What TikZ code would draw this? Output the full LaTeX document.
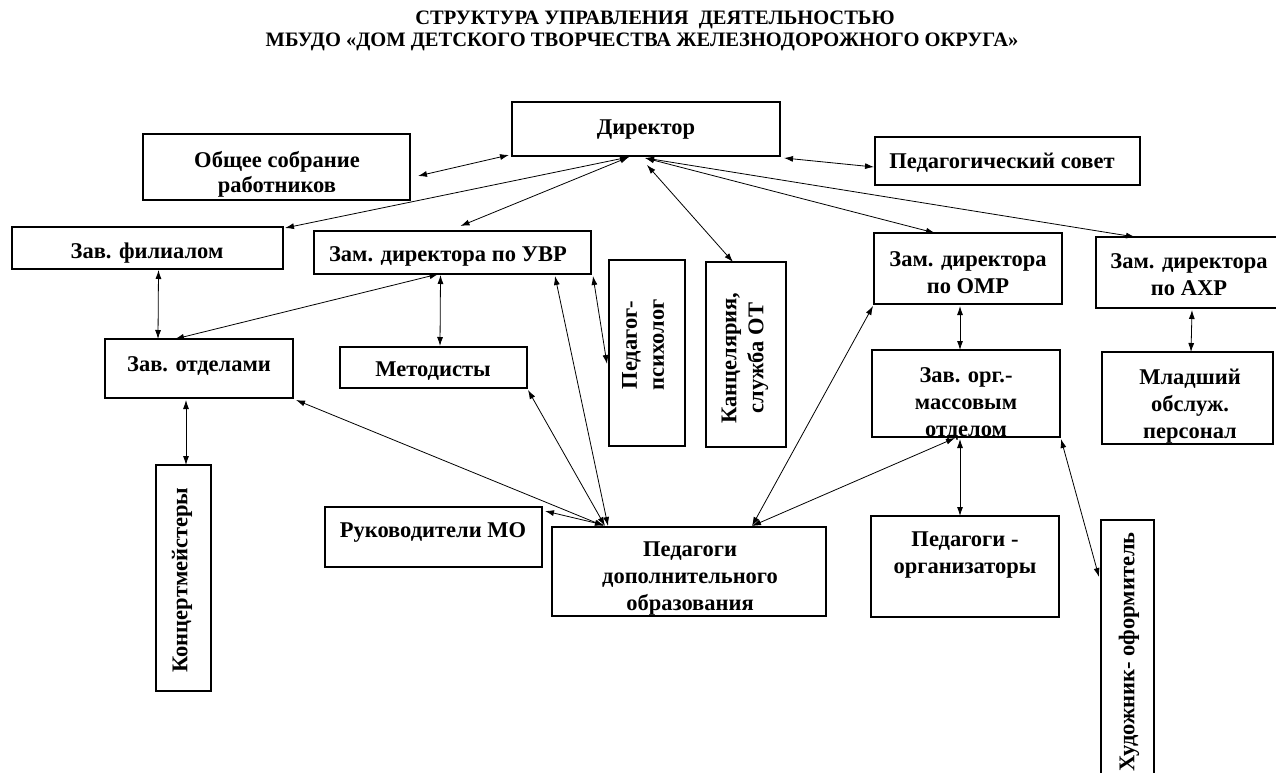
\documentclass[tikz,border=0pt]{standalone}
\usepackage{fontspec}
\setmainfont{Liberation Serif}
\usetikzlibrary{arrows.meta,calc}
\newcommand{\rbox}[5]{\node[box, minimum width={#4-#2}, minimum height={#5-#3}] (#1) at ({(#2+#4)/2},{(#3+#5)/2}) {};}
\begin{document}
\begin{tikzpicture}[x=1pt,y=-1pt,
  box/.style={draw, line width=1.2pt, inner sep=0pt, outer sep=0pt, rectangle},
  txt/.style={font=\fontsize{22.5}{27}\selectfont\bfseries, align=center, inner sep=0pt},
  htxt/.style={txt, yshift=-3pt},
  ttl/.style={font=\fontsize{20.5}{22}\selectfont\bfseries, align=center, inner sep=0pt},
  dbl/.style={{Latex[length=9pt,width=6pt]}-{Latex[length=9pt,width=6pt]}, line width=0.8pt}]
\useasboundingbox (0,0) rectangle (1276,773);
\clip (0,0) rectangle (1276,773);
% title
\node[ttl] (title1) at (655,20) {СТРУКТУРА УПРАВЛЕНИЯ\ \ ДЕЯТЕЛЬНОСТЬЮ};
\node[ttl] (title2) at (642,42) {МБУДО «ДОМ ДЕТСКОГО ТВОРЧЕСТВА ЖЕЛЕЗНОДОРОЖНОГО ОКРУГА»};
% boxes
\rbox{dir}{512}{102}{780}{156}
\rbox{obsh}{143}{134}{410}{200}
\rbox{psov}{875}{137}{1140}{185}
\rbox{zfil}{12}{227}{283}{269}
\rbox{uvr}{314}{231}{591}{274}
\rbox{zotd}{105}{339}{293}{398}
\rbox{met}{340}{347}{527}{388}
\rbox{psy}{609}{260}{685}{446}
\rbox{kan}{706}{262}{786}{447}
\rbox{omr}{874}{233}{1062}{304}
\rbox{axr}{1096}{237}{1282}{308}
\rbox{zom}{872}{350}{1060}{437}
\rbox{mlad}{1102}{352}{1273}{444}
\rbox{konc}{156}{465}{211}{691}
\rbox{ruk}{325}{507}{542}{567}
\rbox{pdo}{552}{527}{826}{616}
\rbox{porg}{871}{516}{1059}{617}
\rbox{hud}{1101}{520}{1154}{800}
% texts
\node[htxt] (t-dir) at (646,127) {Директор};
\node[htxt, font=\fontsize{22.5}{25}\selectfont\bfseries] (t-obsh) at (277,171) {Общее собрание\\работников};
\node[htxt] (t-psov) at (1002,160) {Педагогический совет};
\node[htxt] (t-zfil) at (147,250) {Зав. филиалом};
\node[htxt] (t-uvr) at (448,253) {Зам. директора по УВР};
\node[htxt] (t-zotd) at (199,363) {Зав. отделами};
\node[htxt] (t-met) at (433,368) {Методисты};
\node[txt, rotate=90] (t-psy) at (643,345) {Педагог-\\психолог};
\node[txt, rotate=90] (t-kan) at (745,358) {Канцелярия,\\служба ОТ};
\node[htxt] (t-omr) at (968,270) {Зам. директора\\по ОМР};
\node[htxt] (t-axr) at (1189,272) {Зам. директора\\по АХР};
\node[htxt] (t-zom) at (966,401) {Зав. орг.-\\массовым\\отделом};
\node[htxt] (t-mlad) at (1190,403) {Младший\\обслуж.\\персонал};
\node[txt, rotate=90] (t-konc) at (182,580) {Концертмейстеры};
\node[htxt] (t-ruk) at (433,529) {Руководители МО};
\node[htxt] (t-pdo) at (690,576) {Педагоги\\дополнительного\\образования};
\node[htxt] (t-porg) at (965,552) {Педагоги -\\организаторы};
\node[txt, rotate=90] (t-hud) at (1129,652) {Художник- оформитель};
% hub points
\coordinate (hubL) at ($(dir.south)+(-17,1)$);
\coordinate (hubR) at ($(dir.south)+(-1,2)$);
% connectors
\draw[dbl] ($(obsh.east)+(8,9)$) -- ($(dir.south west)+(-3,-1)$);
\draw[dbl] ($(dir.south east)+(4,2)$) -- ($(psov.west)+(-1,6)$);
\draw[dbl] (hubL) -- ($(zfil.north east)+(2,1)$);
\draw[dbl] (hubL) -- ($(uvr.north)+(8,-5)$);
\draw[dbl] ($(hubR)+(2,7)$) -- ($(kan.north)+(-13,0)$);
\draw[dbl] (hubR) -- ($(omr.north)+(-33,0)$);
\draw[dbl] (hubR) -- ($(axr.north)+(-54,0)$);
\draw[dbl] ($(zfil.south)+(11,1)$) -- ($(zotd.north)+(-41,0)$);
\draw[dbl] ($(uvr.south)+(-14,0)$) -- ($(zotd.north)+(-24,0)$);
\draw[dbl] ($(uvr.south)+(-12,1)$) -- ($(met.north)+(6.5,-1)$);
\draw[dbl] ($(uvr.south east)+(-36,2)$) -- ($(pdo.north west)+(56,-1)$);
\draw[dbl] ($(uvr.south east)+(2,2)$) -- ($(psy.west)+(-2,11)$);
\draw[dbl] ($(met.south east)+(1,2)$) -- ($(pdo.north west)+(53,-1)$);
\draw[dbl] ($(zotd.south east)+(3,2)$) -- ($(pdo.north west)+(52,-1)$);
\draw[dbl] ($(ruk.north east)+(3,4)$) -- ($(pdo.north west)+(52,-2)$);
\draw[dbl] ($(zotd.south)+(-13,2)$) -- ($(konc.north)+(2.5,0)$);
\draw[dbl] ($(omr.south west)+(-1,2)$) -- ($(pdo.north)+(63,-1)$);
\draw[dbl] ($(zom.south)+(-11,1)$) -- ($(pdo.north)+(63,-1)$);
\draw[dbl] ($(omr.south)+(-8,2)$) -- ($(zom.north)+(-6,0)$);
\draw[dbl] ($(zom.south)+(-6,2)$) -- ($(porg.north)+(-5,0)$);
\draw[dbl] ($(zom.south east)+(1,2)$) -- ($(hud.north west)+(-2,57)$);
\draw[dbl] ($(axr.south)+(3,2)$) -- ($(mlad.north)+(3.5,0)$);
\end{tikzpicture}
\end{document}
